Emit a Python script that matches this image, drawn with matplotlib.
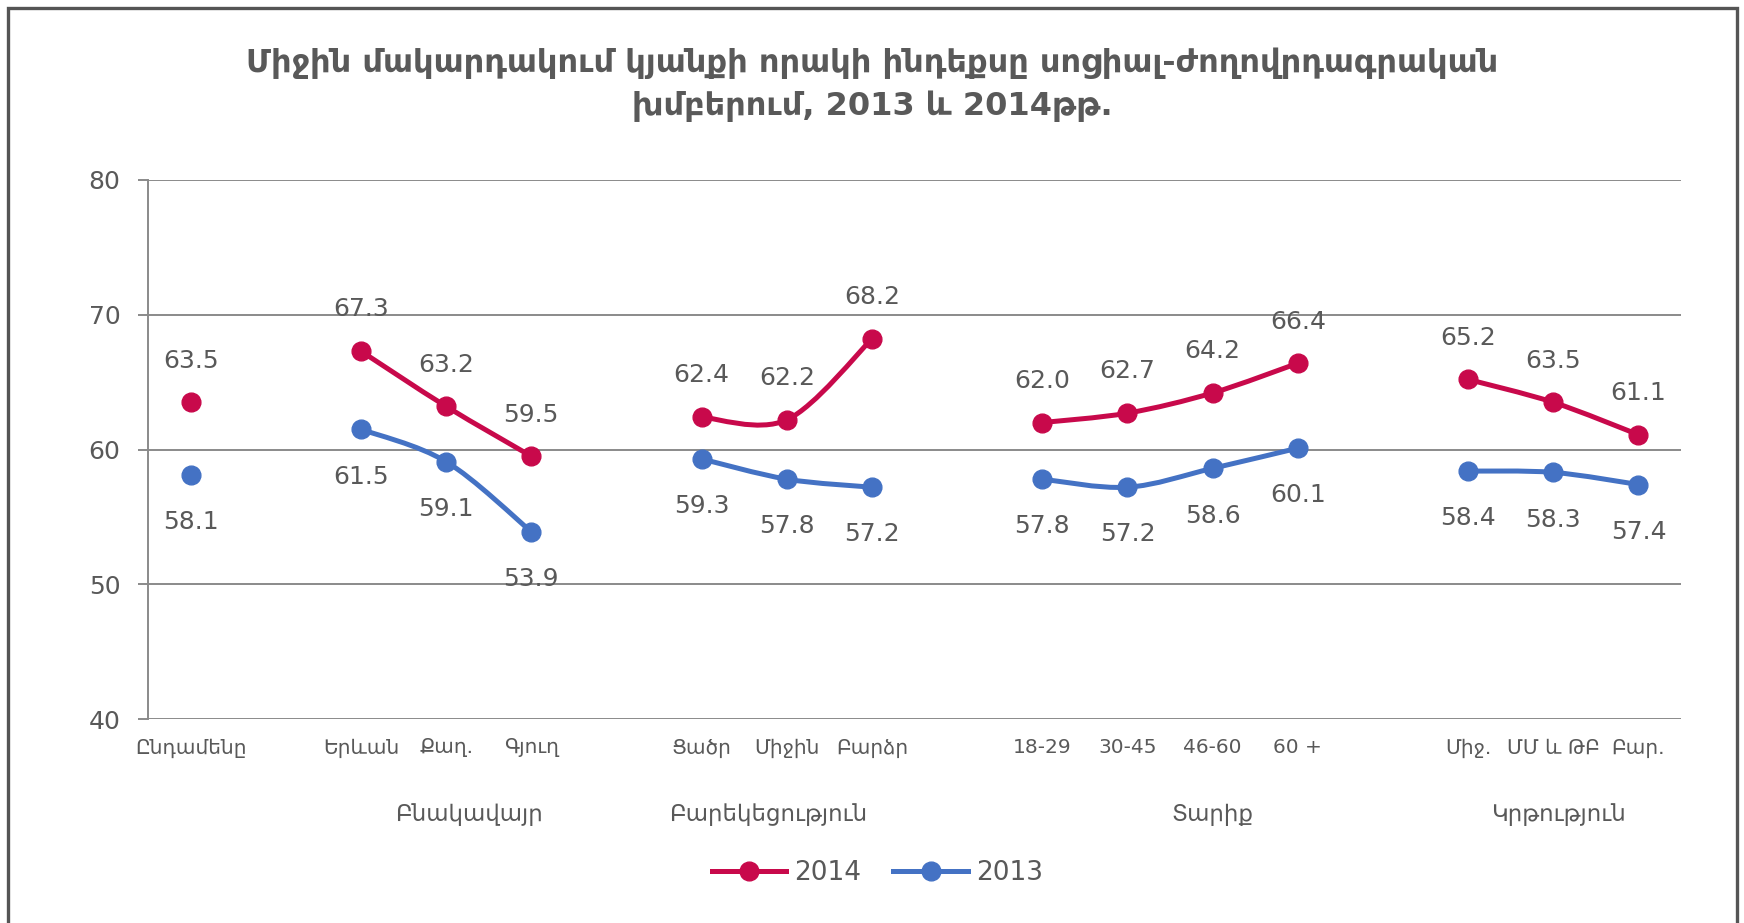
import numpy as np
import matplotlib
matplotlib.use("Agg")
import matplotlib.pyplot as plt
from matplotlib.path import Path
from matplotlib.patches import PathPatch, Rectangle
from matplotlib.lines import Line2D

plt.rcParams['font.family'] = ['DejaVu Sans']

# categories (empty slots are the gaps between groups)
cats = ['Ընդամենը', '', 'Երևան', 'Քաղ.', 'Գյուղ', '', 'Ցածր', 'Միջին', 'Բարձր', '',
        '18-29', '30-45', '46-60', '60 +', '', 'Միջ.', 'ՄՄ և ԹԲ', 'Բար.']
v2014 = [63.5, np.nan, 67.3, 63.2, 59.5, np.nan, 62.4, 62.2, 68.2, np.nan,
         62.0, 62.7, 64.2, 66.4, np.nan, 65.2, 63.5, 61.1]
v2013 = [58.1, np.nan, 61.5, 59.1, 53.9, np.nan, 59.3, 57.8, 57.2, np.nan,
         57.8, 57.2, 58.6, 60.1, np.nan, 58.4, 58.3, 57.4]
groups = ['Բնակավայր', 'Բարեկեցություն', 'Տարիք', 'Կրթություն']
group_pos = [3.27, 6.78, 12.0, 16.06]
yticks = [40, 50, 60, 70, 80]
title = 'Միջին մակարդակում կյանքի որակի ինդեքսը սոցիալ-ժողովրդագրական\nխմբերում, 2013 և 2014թթ.'

red = '#C8094B'
blue = '#4472C4'
gray = '#595959'
grid = '#8A8A8A'

fig = plt.figure(figsize=(17.44, 9.23), dpi=100)
ax = fig.add_axes([0.0849, 0.221, 0.879, 0.584])


def smooth_path(x, y):
    # excel-like smoothed line: bezier through the points of each run
    verts, codes = [], []
    x = np.asarray(x, float)
    y = np.asarray(y, float)
    ok = ~np.isnan(y)
    i = 0
    n = len(y)
    while i < n:
        if not ok[i]:
            i += 1
            continue
        j = i
        while j + 1 < n and ok[j + 1]:
            j += 1
        px, py = x[i:j + 1], y[i:j + 1]
        if len(px) > 1:
            verts.append((px[0], py[0]))
            codes.append(Path.MOVETO)
            m = len(px)
            for k in range(m - 1):
                a = max(k - 1, 0)
                b = min(k + 2, m - 1)
                c1 = (px[k] + (px[k + 1] - px[a]) / 6, py[k] + (py[k + 1] - py[a]) / 6)
                c2 = (px[k + 1] - (px[b] - px[k]) / 6, py[k + 1] - (py[b] - py[k]) / 6)
                verts += [c1, c2, (px[k + 1], py[k + 1])]
                codes += [Path.CURVE4] * 3
        i = j + 1
    return Path(verts, codes)


x = np.arange(len(cats))
for vals, col, off in [(v2013, blue, -34), (v2014, red, 30)]:
    ax.add_patch(PathPatch(smooth_path(x, vals), fill=False, edgecolor=col,
                           lw=3.6, capstyle='round', joinstyle='round', zorder=3))
    ax.plot(x, vals, 'o', color=col, ms=13.5, zorder=4)
    for xi, v in zip(x, vals):
        if not np.isnan(v):
            ax.annotate(f'{v:.1f}', (xi, v), xytext=(0, off), textcoords='offset points',
                        ha='center', va='center', fontsize=18, color=gray)

ax.set_xlim(-0.5, len(cats) - 0.5)
ax.set_ylim(40, 80)
ax.set_yticks(yticks)
ax.yaxis.grid(True, color=grid, lw=1.4)
ax.set_axisbelow(True)
for s in ['top', 'right', 'bottom']:
    ax.spines[s].set_visible(False)
ax.spines['left'].set_color(grid)
ax.spines['left'].set_linewidth(1.4)
ax.tick_params(axis='y', length=7, width=1.4, color=grid, labelsize=18, labelcolor=gray, pad=13)
ax.set_xticks(x)
ax.set_xticklabels(cats, fontsize=14.5, color=gray)
ax.tick_params(axis='x', length=0, pad=14)

# group labels under the category labels
for g, p in zip(groups, group_pos):
    ax.text(p, -0.177, g, transform=ax.get_xaxis_transform(), ha='center', va='center',
            fontsize=16.5, color=gray)

fig.text(0.5, 0.908, title, ha='center', va='center', fontsize=23, fontweight='bold',
         color=gray, linespacing=1.45)

handles = [Line2D([], [], color=red, lw=3.6, marker='o', ms=13.5),
           Line2D([], [], color=blue, lw=3.6, marker='o', ms=13.5)]
leg = fig.legend(handles, ['2014', '2013'], loc='center', bbox_to_anchor=(0.503, 0.054),
                 ncol=2, frameon=False, fontsize=19, handlelength=2.84,
                 handletextpad=0.3, columnspacing=1.2)
for t in leg.get_texts():
    t.set_color(gray)

# outer frame of the chart
fig.add_artist(Rectangle((8 / 1744, -0.02), 1729 / 1744, 1.02 - 8 / 923, transform=fig.transFigure,
                         fill=False, edgecolor='#555555', lw=2.4))

fig.savefig('out.png', dpi=100)
